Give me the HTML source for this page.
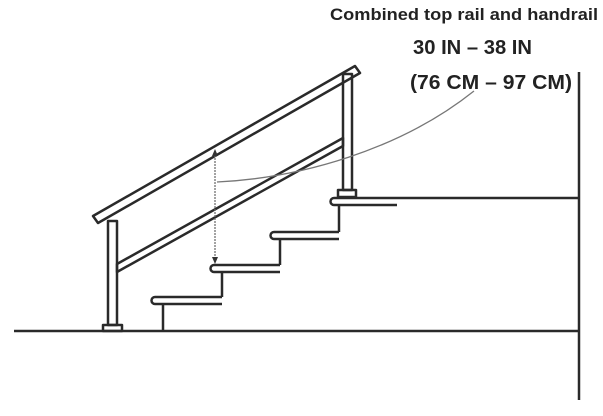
<!DOCTYPE html>
<html><head><style>
body{margin:0;background:#fff;width:603px;height:411px;overflow:hidden}
text{font-family:"Liberation Sans Narrow","Liberation Sans",sans-serif;font-weight:bold;fill:#222}
</style></head><body>
<svg width="603" height="411" viewBox="0 0 603 411" xmlns="http://www.w3.org/2000/svg">
<g fill="none" stroke="#2a2a2a" stroke-width="2.5" stroke-linejoin="round">
<line x1="14" y1="331" x2="580" y2="331"/>
<line x1="579" y1="72" x2="579" y2="400"/>
<line x1="397" y1="198" x2="579" y2="198"/>
<polygon points="93,216 355,66 360,73 98,223"/>
<rect x="108" y="221" width="9" height="104"/>
<rect x="103" y="325" width="19" height="6"/>
<rect x="343" y="74" width="9" height="116"/>
<rect x="338" y="190" width="18" height="7"/>
<polygon points="117,264 343,138 343,146 117,272"/>
<path d="M397,198 H334 a3,3 0 0 0 0,7 H397"/>
<line x1="339" y1="205" x2="339" y2="232"/>
<path d="M339,232 H274 a3,3 0 0 0 0,7 H339"/>
<line x1="280" y1="239" x2="280" y2="265"/>
<path d="M280,265 H214 a3,3 0 0 0 0,7 H280"/>
<line x1="222" y1="272" x2="222" y2="297"/>
<path d="M222,297 H155 a3,3 0 0 0 0,7 H222"/>
<line x1="163" y1="304" x2="163" y2="331"/>
</g>
<line x1="215" y1="152" x2="215" y2="259" stroke="#666" stroke-width="1.2" stroke-dasharray="2,1"/>
<polygon points="212,156 218,156 215,149" fill="#333"/>
<polygon points="212,257 218,257 215,264" fill="#333"/>
<path d="M217,182 C300,178 400,150 474,91" fill="none" stroke="#777" stroke-width="1.3"/>
<text x="330" y="20" font-size="17" textLength="268" lengthAdjust="spacingAndGlyphs">Combined top rail and handrail</text>
<text x="413" y="54" font-size="20" textLength="119" lengthAdjust="spacingAndGlyphs">30 IN – 38 IN</text>
<text x="410" y="89" font-size="20" textLength="162" lengthAdjust="spacingAndGlyphs">(76 CM – 97 CM)</text>
</svg>
</body></html>
